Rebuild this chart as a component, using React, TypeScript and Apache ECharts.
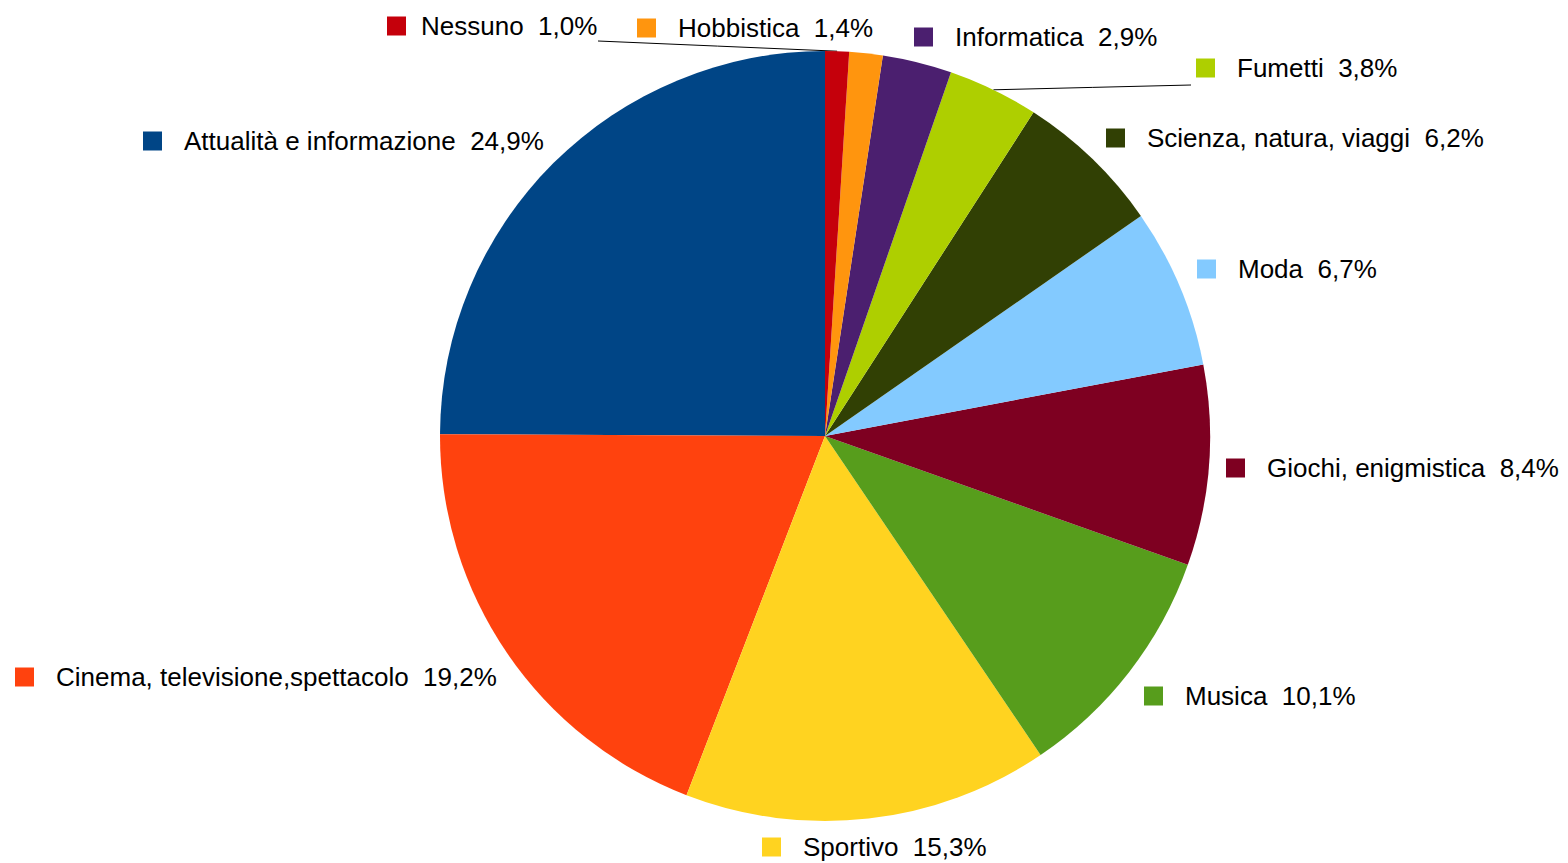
import React, { useEffect, useRef } from "react";
import * as echarts from "echarts";

// Data in LibreOffice order (drawn counter-clockwise from 12 o'clock)
const categories = [
  "Attualità e informazione",
  "Cinema, televisione,spettacolo",
  "Sportivo",
  "Musica",
  "Giochi, enigmistica",
  "Moda",
  "Scienza, natura, viaggi",
  "Fumetti",
  "Informatica",
  "Hobbistica",
  "Nessuno",
];
const percentages = [24.9, 19.2, 15.3, 10.1, 8.4, 6.7, 6.2, 3.8, 2.9, 1.4, 1.0];
const colors = [
  "#004586",
  "#ff420e",
  "#ffd320",
  "#579d1c",
  "#7e0021",
  "#83caff",
  "#314004",
  "#aecf00",
  "#4b1f6f",
  "#ff950e",
  "#c5000b",
];
// label anchor (left edge of marker square, vertical middle)
const labelAnchors: [number, number][] = [
  [143, 141],
  [15, 677],
  [762, 847],
  [1144, 696],
  [1226, 468],
  [1197, 269],
  [1106, 138],
  [1196, 68],
  [914, 37],
  [637, 28],
  [387, 26],
];
// end of leader line near the label (only for labels that have one)
const leaderEnds: Record<string, [number, number]> = {
  Fumetti: [1191, 85],
  Nessuno: [598, 41],
};
const tightLabels = ["Nessuno"];

export default function App() {
  const ref = useRef<HTMLDivElement>(null);
  useEffect(() => {
    if (!ref.current) return;
    const chart = echarts.init(ref.current, undefined, { renderer: "svg" });
    const textStyle = {
      fontFamily: "Liberation Sans",
      fontSize: 26,
      color: "#000",
    };
    const rich: Record<string, any> = {
      t: { ...textStyle, padding: [0, 0, 0, 22] },
      tt: { ...textStyle, padding: [0, 0, 0, 15] },
    };
    colors.forEach((c, i) => {
      rich["s" + i] = { width: 19, height: 19, backgroundColor: c };
    });
    chart.setOption({
      animation: false,
      backgroundColor: "#fff",
      series: [
        {
          type: "pie",
          center: [825, 436],
          radius: 385,
          startAngle: 90,
          clockwise: false,
          avoidLabelOverlap: false,
          emphasis: { disabled: true },
          itemStyle: { borderWidth: 0 },
          label: {
            show: true,
            formatter: (p: any) => {
              const st = tightLabels.includes(p.name) ? "tt" : "t";
              return `{s${p.dataIndex}|}{${st}|${p.name}  ${p.value
                .toFixed(1)
                .replace(".", ",")}%}`;
            },
            rich,
          },
          labelLine: {
            show: true,
            smooth: false,
            lineStyle: { color: "#000", width: 1 },
          },
          labelLayout: (params: any) => {
            const a = labelAnchors[params.dataIndex];
            const res: any = {
              x: a[0],
              y: a[1],
              align: "left",
              verticalAlign: "middle",
            };
            const name = categories[params.dataIndex];
            const end = leaderEnds[name];
            const pts = params.labelLinePoints;
            if (end && pts && pts.length) {
              const s = pts[0];
              res.labelLinePoints = [
                [s[0], s[1]],
                [(s[0] + end[0]) / 2, (s[1] + end[1]) / 2],
                [end[0], end[1]],
              ];
            }
            return res;
          },
          data: categories.map((name, i) => ({
            name,
            value: percentages[i],
            itemStyle: { color: colors[i] },
            labelLine: { show: !!leaderEnds[name] },
          })),
        },
      ],
    });
    return () => chart.dispose();
  }, []);
  return (
    <div
      ref={ref}
      style={{ position: "fixed", left: 0, top: 0, width: 1568, height: 863 }}
    />
  );
}
